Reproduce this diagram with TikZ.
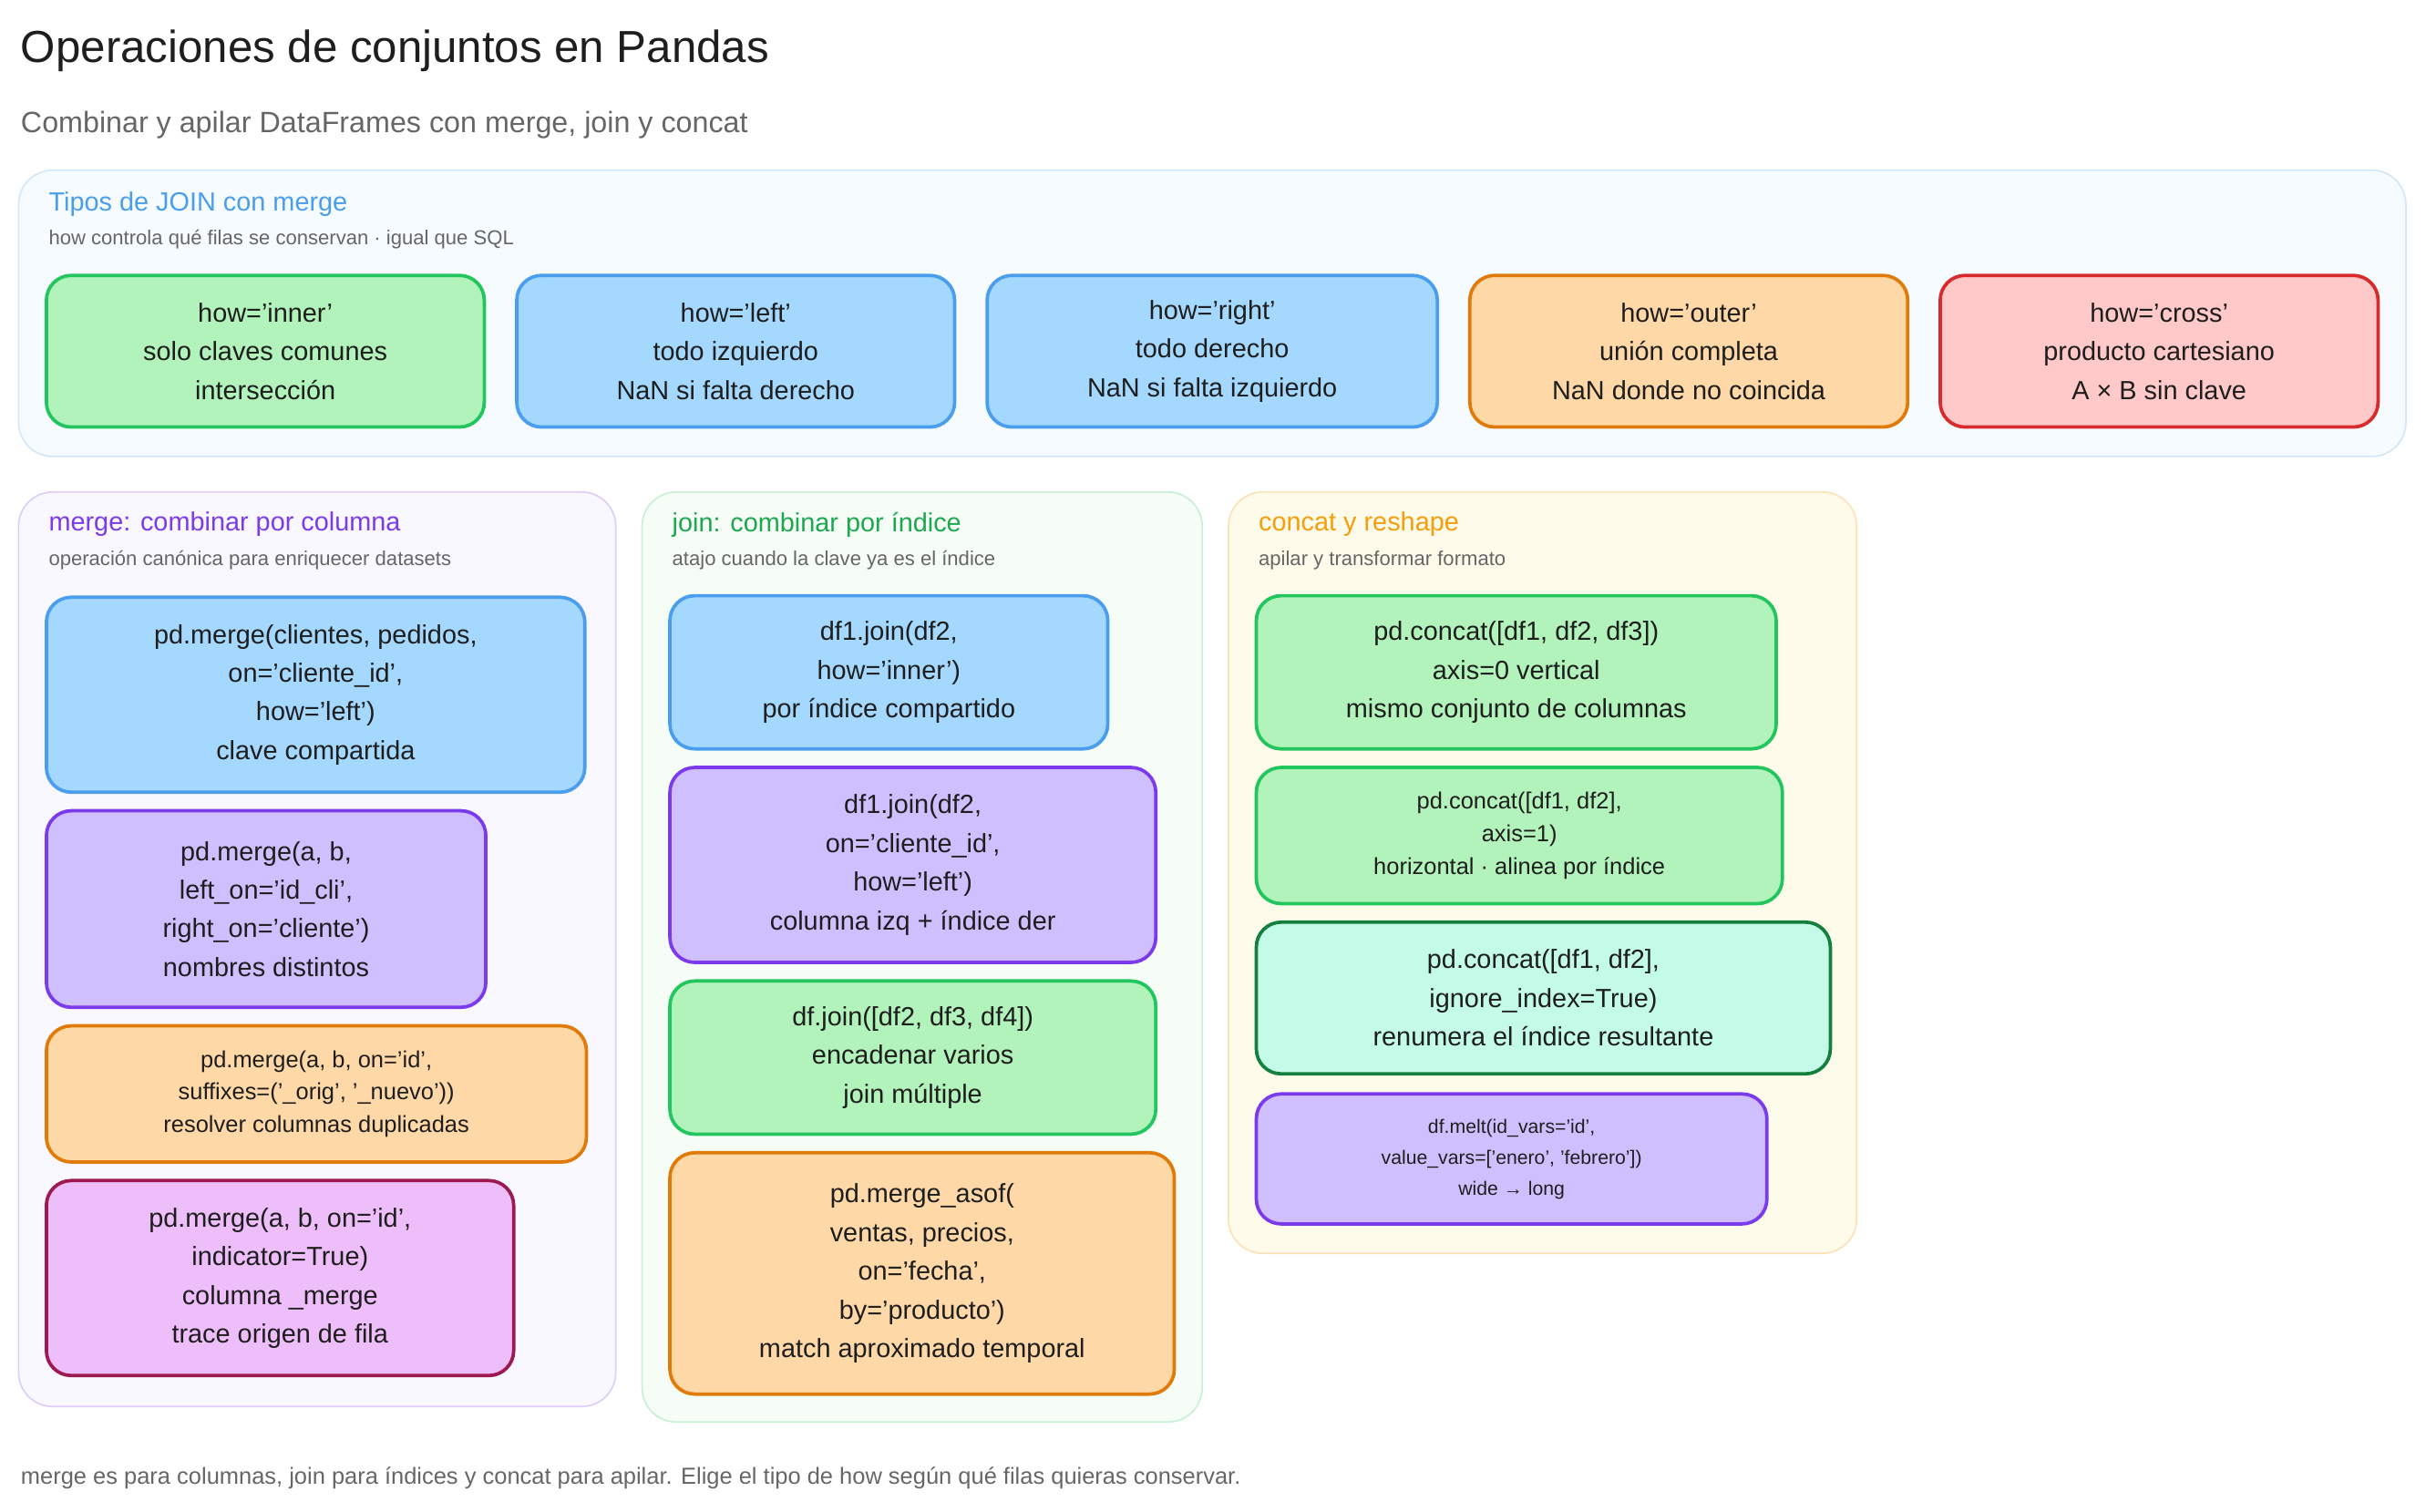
\documentclass[tikz,border=0pt]{standalone}
\usepackage{fontspec}
\setmainfont{Liberation Sans}
\usetikzlibrary{positioning}
\definecolor{ink}{HTML}{1E1E1E}
\definecolor{muted}{HTML}{666666}
\definecolor{grnF}{HTML}{B2F2BB}\definecolor{grnD}{HTML}{22C55E}
\definecolor{bluF}{HTML}{A5D8FF}\definecolor{bluD}{HTML}{4A9EED}
\definecolor{orgF}{HTML}{FFD8A8}\definecolor{orgD}{HTML}{E07B0A}
\definecolor{redF}{HTML}{FFC9C9}\definecolor{redD}{HTML}{D92B2B}
\definecolor{purF}{HTML}{D0BFFF}\definecolor{purD}{HTML}{7C3AED}
\definecolor{pnkF}{HTML}{EEBEFA}\definecolor{pnkD}{HTML}{9C1A4F}
\definecolor{tealF}{HTML}{C3FAE8}\definecolor{tealD}{HTML}{15803D}
\definecolor{ylwF}{HTML}{FFFBEB}\definecolor{ylwD}{HTML}{F59E0B}
\begin{document}
\begin{tikzpicture}[x=1pt,y=-1pt,
panel/.style={rounded corners=22pt, line width=1pt},
card/.style={rounded corners=16pt, line width=2.2pt, align=center, text=ink,
    font=\fontsize{17}{25}\selectfont, inner sep=0pt},
small/.style={font=\fontsize{15}{21}\selectfont},
tiny/.style={font=\fontsize{12.5}{20}\selectfont},
ptitle/.style={anchor=west, font=\fontsize{17}{20}\selectfont},
psub/.style={anchor=west, text=muted, font=\fontsize{13}{15}\selectfont}]
\useasboundingbox (0,0) rectangle (1568,977);
% cabecera
\node (title) [anchor=west, text=ink, font=\fontsize{29}{32}\selectfont] at (10,33) {Operaciones de conjuntos en Pandas};
\node (subtitle) [anchor=west, text=muted, font=\fontsize{19}{22}\selectfont] at (10,81) {Combinar y apilar DataFrames con merge, join y concat};

% tipos de join
\draw [panel, draw=bluD!25, fill=bluF!10] (12,110) rectangle (1555,295);
\node (joinT) [ptitle, text=bluD] at (28,132) {Tipos de JOIN con merge};
\node (joinS) [psub] at (28,155) {how controla qué filas se conservan · igual que SQL};
\node (inner) [card, fill=grnF, draw=grnD, minimum width=283pt, minimum height=98pt] at (171.5,227) {how='inner'\\solo claves comunes\\intersección};
\node (left) [card, fill=bluF, draw=bluD, minimum width=283pt, minimum height=98pt] at (475.5,227) {how='left'\\todo izquierdo\\NaN si falta derecho};
\node (right) [card, fill=bluF, draw=bluD, minimum width=291pt, minimum height=98pt] at (783.5,227) {how='right'\\todo derecho\\NaN si falta izquierdo};
\node (outer) [card, fill=orgF, draw=orgD, minimum width=283pt, minimum height=98pt] at (1091.5,227) {how='outer'\\unión completa\\NaN donde no coincida};
\node (cross) [card, fill=redF, draw=redD, minimum width=283pt, minimum height=98pt] at (1395.5,227) {how='cross'\\producto cartesiano\\A × B sin clave};

% merge
\draw [panel, draw=purD!25, fill=purF!12] (12,318) rectangle (398,909);
\node (mergeT) [ptitle, text=purD] at (28,339) {merge: combinar por columna};
\node (mergeS) [psub] at (28,362) {operación canónica para enriquecer datasets};
\node (m1) [card, fill=bluF, draw=bluD, minimum width=348pt, minimum height=126pt] at (204,449) {pd.merge(clientes, pedidos,\\on='cliente\_id',\\how='left')\\clave compartida};
\node (m2) [card, fill=purF, draw=purD, minimum width=284pt, minimum height=127pt] at (172,587.5) {pd.merge(a, b,\\left\_on='id\_cli',\\right\_on='cliente')\\nombres distintos};
\node (m3) [card, small, fill=orgF, draw=orgD, minimum width=349pt, minimum height=88pt] at (204.5,707) {pd.merge(a, b, on='id',\\suffixes=('\_orig', '\_nuevo'))\\resolver columnas duplicadas};
\node (m4) [card, fill=pnkF, draw=pnkD, minimum width=302pt, minimum height=126pt] at (181,826) {pd.merge(a, b, on='id',\\indicator=True)\\columna \_merge\\trace origen de fila};

% join
\draw [panel, draw=grnD!25, fill=grnF!12] (415,318) rectangle (777,919);
\node (jT) [ptitle, text=grnD!85!black] at (431,339) {join: combinar por índice};
\node (jS) [psub] at (431,362) {atajo cuando la clave ya es el índice};
\node (j1) [card, fill=bluF, draw=bluD, minimum width=283pt, minimum height=99pt] at (574.5,434.5) {df1.join(df2,\\how='inner')\\por índice compartido};
\node (j2) [card, fill=purF, draw=purD, minimum width=314pt, minimum height=126pt] at (590,559) {df1.join(df2,\\on='cliente\_id',\\how='left')\\columna izq + índice der};
\node (j3) [card, fill=grnF, draw=grnD, minimum width=314pt, minimum height=99pt] at (590,683.5) {df.join([df2, df3, df4])\\encadenar varios\\join múltiple};
\node (j4) [card, fill=orgF, draw=orgD, minimum width=326pt, minimum height=156pt] at (596,823) {pd.merge\_asof(\\ventas, precios,\\on='fecha',\\by='producto')\\match aproximado temporal};

% concat
\draw [panel, draw=ylwD!30, fill=ylwF] (794,318) rectangle (1200,810);
\node (cT) [ptitle, text=ylwD] at (810,339) {concat y reshape};
\node (cS) [psub] at (810,362) {apilar y transformar formato};
\node (c1) [card, fill=grnF, draw=grnD, minimum width=336pt, minimum height=99pt] at (980,434.5) {pd.concat([df1, df2, df3])\\axis=0 vertical\\mismo conjunto de columnas};
\node (c2) [card, small, fill=grnF, draw=grnD, minimum width=340pt, minimum height=88pt] at (982,540) {pd.concat([df1, df2],\\axis=1)\\horizontal · alinea por índice};
\node (c3) [card, fill=tealF, draw=tealD, minimum width=371pt, minimum height=98pt] at (997.5,645) {pd.concat([df1, df2],\\ignore\_index=True)\\renumera el índice resultante};
\node (c4) [card, tiny, fill=purF, draw=purD, minimum width=330pt, minimum height=84pt] at (977,749) {df.melt(id\_vars='id',\\value\_vars=['enero', 'febrero'])\\wide → long};

% pie
\node (foot) [anchor=west, text=muted, font=\fontsize{15}{16}\selectfont] at (10,955) {merge es para columnas, join para índices y concat para apilar. Elige el tipo de how según qué filas quieras conservar.};
\end{tikzpicture}
\end{document}
